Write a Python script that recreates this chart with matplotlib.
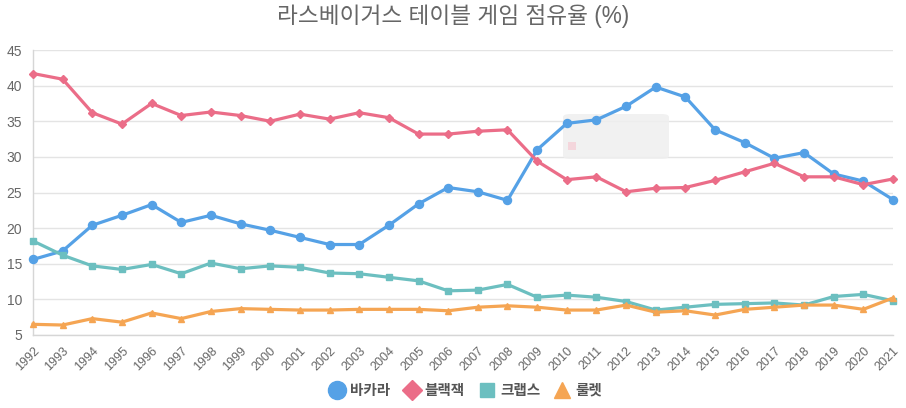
import matplotlib
matplotlib.use("Agg")
import matplotlib.pyplot as plt
from matplotlib.lines import Line2D
from matplotlib.patches import FancyBboxPatch, Rectangle

plt.rcParams['font.family'] = ['Liberation Sans', 'Noto Sans CJK KR', 'DejaVu Sans']

# share of Las Vegas table games revenue (%)
years = list(range(1992, 2022))

baccarat = [15.6, 16.8, 20.4, 21.8, 23.3, 20.8, 21.8, 20.6, 19.7, 18.7,
            17.7, 17.7, 20.4, 23.4, 25.7, 25.1, 23.9, 31.0, 34.7, 35.2,
            37.1, 39.8, 38.4, 33.8, 32.0, 29.8, 30.6, 27.6, 26.6, 24.0]
blackjack = [41.7, 40.9, 36.2, 34.6, 37.5, 35.8, 36.3, 35.8, 35.0, 36.0,
             35.3, 36.2, 35.5, 33.2, 33.2, 33.6, 33.8, 29.4, 26.8, 27.2,
             25.1, 25.6, 25.7, 26.7, 27.9, 29.1, 27.2, 27.2, 26.1, 26.9]
craps = [18.2, 16.2, 14.7, 14.2, 14.9, 13.6, 15.1, 14.3, 14.7, 14.5,
         13.7, 13.6, 13.1, 12.6, 11.2, 11.3, 12.1, 10.3, 10.6, 10.3,
         9.7, 8.5, 8.9, 9.3, 9.4, 9.5, 9.2, 10.4, 10.7, 9.8]
roulette = [6.5, 6.4, 7.3, 6.8, 8.1, 7.3, 8.3, 8.7, 8.6, 8.5,
            8.5, 8.6, 8.6, 8.6, 8.4, 8.9, 9.1, 8.9, 8.5, 8.5,
            9.2, 8.2, 8.4, 7.8, 8.6, 8.9, 9.2, 9.2, 8.6, 10.2]

# name, values, colour, marker, marker size on line, marker size in legend
series = [
    ("바카라", baccarat, "#55a1e6", "o", 5.8, 13),
    ("블랙잭", blackjack, "#eb6d88", "D", 4.2, 10.5),
    ("크랩스", craps, "#6cbfc0", "s", 4.2, 10.5),
    ("룰렛", roulette, "#f5a553", "^", 5, 12),
]

grey = "#666666"

fig = plt.figure(figsize=(9.06, 4.08), dpi=100)
ax = fig.add_axes([33 / 906, 1 - 335 / 408, (893 - 33) / 906, (335 - 50) / 408])

for name, vals, col, mk, ms, lms in series:
    ax.plot(years, vals, color=col, lw=2.3, marker=mk, markersize=ms,
            zorder=3, clip_on=False)

ax.set_xlim(1992, 2021)
ax.set_ylim(5, 45)
ax.set_yticks(range(5, 46, 5))
ax.set_xticks(years)
ax.set_xticklabels([str(y) for y in years], rotation=45, ha="right",
                   rotation_mode="anchor", fontsize=9, color=grey)
ax.tick_params(axis="y", labelsize=10, labelcolor=grey, length=0, pad=8)
ax.tick_params(axis="x", length=0, pad=7)
ax.grid(axis="y", color="#e4e4e4", lw=1)
ax.set_axisbelow(True)
for s in ["top", "right"]:
    ax.spines[s].set_visible(False)
for s in ["left", "bottom"]:
    ax.spines[s].set_color("#d6d6d6")
    ax.spines[s].set_linewidth(1)

# faded tooltip box left on screen
tip = FancyBboxPatch((563 / 906, 1 - 159 / 408), 106 / 906, 45 / 408,
                     boxstyle="round,pad=0,rounding_size=0.008",
                     transform=fig.transFigure, facecolor="#efefef",
                     edgecolor="none", alpha=0.85, zorder=1)
ax.add_artist(tip)
ax.add_artist(Rectangle((568 / 906, 1 - 150 / 408), 8 / 906, 8 / 408,
                        transform=fig.transFigure, facecolor="#f4d6dc",
                        edgecolor="none", zorder=1.5))

fig.suptitle("라스베이거스 테이블 게임 점유율 (%)", y=0.99, fontsize=16.3,
             color=grey)

handles = [Line2D([], [], ls="none", marker=mk, color=col, markersize=lms)
           for name, vals, col, mk, ms, lms in series]
fig.legend(handles, [s[0] for s in series], loc="center",
           bbox_to_anchor=(0.513, 1 - 391 / 408), ncol=4, frameon=False,
           prop={"size": 10.5, "weight": "bold"}, labelcolor="#555555",
           handletextpad=0.3, columnspacing=0.9, handlelength=1.2)

plt.savefig("out.png", dpi=100)
